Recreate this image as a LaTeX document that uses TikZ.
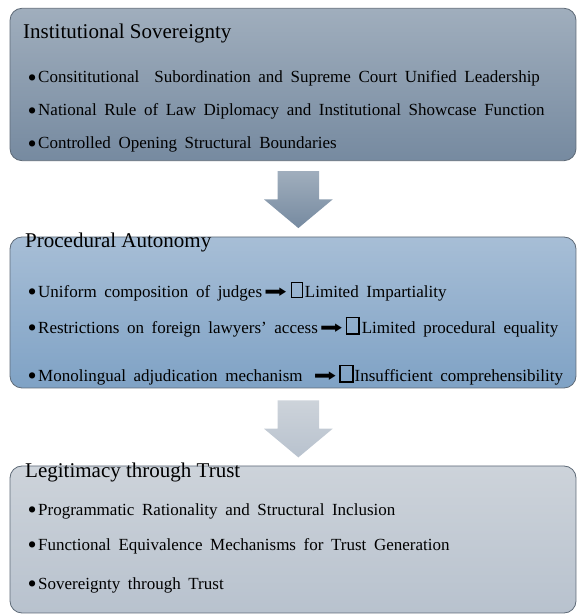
\documentclass[tikz,border=0pt]{standalone}
\usepackage{fontspec}
\setmainfont{Liberation Serif}
\newfontfamily\arrowfont[FakeStretch=1.6]{DejaVu Sans}
\usepackage{tikz}

\definecolor{sovtop}{HTML}{A0AEBD}
\definecolor{sovbot}{HTML}{768AA0}
\definecolor{proctop}{HTML}{A7BED6}
\definecolor{procbot}{HTML}{7FA2C5}
\definecolor{legittop}{HTML}{CDD3DA}
\definecolor{legitbot}{HTML}{B8C2CE}
\definecolor{frame}{HTML}{5E6A77}

% missing glyph box, #1 = rule width
\newcommand{\tofu}[1]{{\setlength{\fboxsep}{0pt}\setlength{\fboxrule}{#1}\fbox{\rule{0pt}{15pt}\hspace{11pt}}}}
\newcommand{\thickto}{{\arrowfont ➡}}
\newcommand{\widespace}{\setlength{\spaceskip}{7.6pt plus 1pt}}
\newcommand{\itemdot}{\makebox[10.5pt][l]{\raisebox{-3.5pt}{\fontsize{26}{26}\selectfont\textbullet}}}

\tikzset{
    stage/.style={draw=frame, line width=0.8pt, rounded corners=12pt,
        minimum width=566pt, inner sep=0pt},
    stagetitle/.style={anchor=base west, inner sep=0pt,
        font=\fontsize{21}{25}\selectfont},
    item/.style={anchor=base west, inner sep=0pt,
        font=\fontsize{17}{20}\selectfont\widespace},
}

\begin{document}
\begin{tikzpicture}[x=1pt,y=1pt]
    \useasboundingbox (0,0) rectangle (577,615);

    % boxes
    \node[stage, top color=sovtop, bottom color=sovbot, minimum height=152.4pt] (sov) at (293,530.5) {};
    \node[stage, top color=proctop, bottom color=procbot, minimum height=151pt] (proc) at (293,302.5) {};
    \node[stage, top color=legittop, bottom color=legitbot, minimum height=147pt] (legit) at (293,75.5) {};

    % block arrows
    \path[top color=sovtop, bottom color=sovbot] ([shift={(-15.3,-10)}]sov.south) -- ++(41.3,0) -- ++(0,-28.3)
        -- ++(13.7,0) -- ++(-34.35,-28.7) -- ++(-34.35,28.7) -- ++(13.7,0) -- cycle; % sov -> proc
    \path[top color=legittop, bottom color=legitbot] ([shift={(-15.3,-12)}]proc.south) -- ++(41.3,0) -- ++(0,-28.3)
        -- ++(13.7,0) -- ++(-34.35,-28.7) -- ++(-34.35,28.7) -- ++(13.7,0) -- cycle; % proc -> legit

    % titles
    \node[stagetitle] (sovtitle) at (23,576.5) {Institutional Sovereignty};
    \node[stagetitle] (proctitle) at (25,367.7) {Procedural Autonomy};
    \node[stagetitle] (legittitle) at (25,137) {Legitimacy through Trust};

    % points
    \node[item] (sov1) at (27.5,532) {\itemdot Consititutional\ \ Subordination and Supreme Court Unified Leadership};
    \node[item] (sov2) at (27.5,499) {\itemdot National Rule of Law Diplomacy and Institutional Showcase Function};
    \node[item] (sov3) at (27.5,466) {\itemdot Controlled Opening Structural Boundaries};

    \node[item] (proc1) at (27.5,317.5) {\itemdot Uniform composition of judges\kern2pt\thickto\kern4pt\tofu{0.5pt}\kern2pt Limited Impartiality};
    \node[item] (proc2) at (27.5,281.5) {\itemdot Restrictions on foreign lawyers’ access\kern2pt\thickto\kern3pt\tofu{1.6pt}\kern2pt Limited procedural equality};
    \node[item] (proc3) at (27.5,233.5) {\itemdot Monolingual adjudication mechanism\hspace{11pt}\thickto\kern3pt\tofu{1.6pt}\kern1pt Insufficient comprehensibility};

    \node[item] (legit1) at (27.5,99.5) {\itemdot Programmatic Rationality and Structural Inclusion};
    \node[item] (legit2) at (27.5,64.5) {\itemdot Functional Equivalence Mechanisms for Trust Generation};
    \node[item] (legit3) at (27.5,25.5) {\itemdot Sovereignty through Trust};

\end{tikzpicture}
\end{document}
